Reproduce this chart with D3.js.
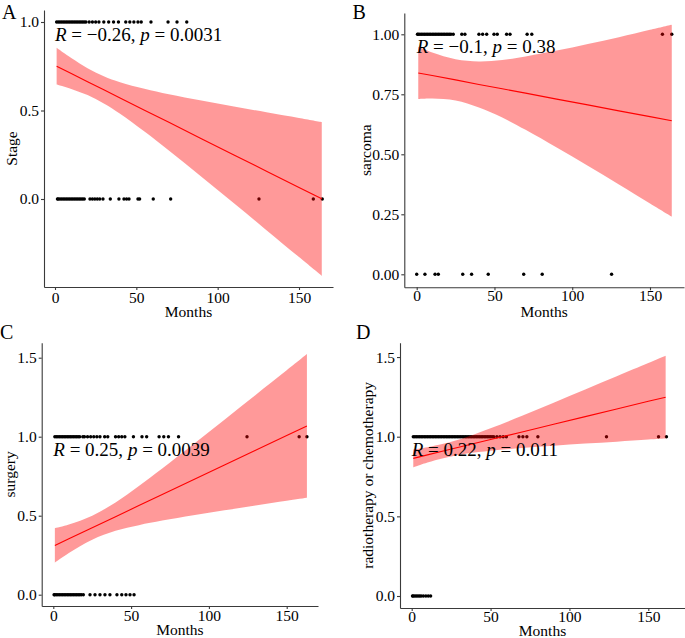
<!DOCTYPE html>
<html>
<head>
<meta charset="utf-8">
<script src="https://cdn.jsdelivr.net/npm/d3@7"></script>
<style>
  html, body { margin: 0; padding: 0; background: #fff; }
  svg { display: block; }
  text { font-family: "Liberation Serif", "Times New Roman", serif; fill: #000; }
</style>
</head>
<body>
<svg id="chart" width="685" height="638"></svg>
<script>
// ---------------- DATA ----------------
const xTicks = [0, 50, 100, 150];
const panelLetters = ["A", "B", "C", "D"];
const yTitles = ["Stage", "sarcoma", "surgery", "radiotherapy or chemotherapy"];
const yTicksA = [0, 0.5, 1];
const yTicksB = [0, 0.25, 0.5, 0.75, 1];
const yTicksC = [0, 0.5, 1, 1.5];
const yTicksD = [0, 0.5, 1, 1.5];
const corR = ["\u22120.26", "\u22120.1", "0.25", "0.22"];
const corP = ["0.0031", "0.38", "0.0039", "0.011"];

// Panel A: Stage
const stageMonths1 = [1,2,3,4,5,6,7,8,9,10,11,12,13,14,15,16,17,18,19,21,23,25,27,30,33,36,39,43.5,46,48.5,51,53,59,69.5,75,81];
const stageMonths0 = [1.5,2,3,4,5,6,7,8,9,10,11,12,13,14,15,16,17,18,21.5,23,24.5,26,27.5,29.5,34,39.3,42.4,44,45.5,51,52,60.4,71.1,125.4,158.8,164.3];
const stageFitMonths = [1,10,20,30,40,55,70,90,110,130,150,164];
const stageFitLine   = [0.750,0.709,0.663,0.617,0.571,0.502,0.433,0.341,0.249,0.157,0.065,0.001];
const stageFitUpper  = [0.854,0.796,0.739,0.694,0.660,0.623,0.592,0.556,0.522,0.490,0.458,0.435];
const stageFitLower  = [0.647,0.622,0.587,0.540,0.482,0.381,0.274,0.126,-0.024,-0.176,-0.328,-0.434];

// Panel B: sarcoma
const sarcomaMonths1 = [0.5,1,2,3,4,5,6,7,8,9,10,11,12,13,14,15,16,17,18,19,20,21,22,23.5,29,31,40,42.4,45,49.7,51.8,57.8,60,71,74,158,164];
const sarcomaMonths0 = [0,5.3,11.8,13.9,29.6,35.3,46,68.8,80.7,125.3];
const sarcomaFitMonths = [1,10,25,40,55,70,90,110,130,150,164];
const sarcomaFitLine   = [0.839,0.828,0.810,0.791,0.773,0.755,0.730,0.706,0.681,0.657,0.640];
const sarcomaFitUpper  = [0.948,0.924,0.896,0.887,0.893,0.908,0.932,0.960,0.988,1.019,1.040];
const sarcomaFitLower  = [0.730,0.732,0.724,0.695,0.653,0.602,0.528,0.452,0.374,0.295,0.240];

// Panel C: surgery
const surgeryMonths1 = [1,2,3,4,5,6,7,8,9,10,11,12,13,14,15,16,17,19,20,22,24,26,28,30,33,35,40,42,44,46,51.5,57,60,68,71,74,80.5,124.5,158,163];
const surgeryMonths0 = [0.5,1,2,3,4,5,6,7,8,9,10,11,12,13,14,15,16,17,18,19.3,23.6,26.8,30,33.2,36.4,40.9,44,46.7,49.3,51.9];
const surgeryFitMonths = [1,10,25,40,55,70,90,110,130,150,163];
const surgeryFitLine   = [0.312,0.354,0.424,0.494,0.564,0.634,0.727,0.821,0.914,1.007,1.068];
const surgeryFitUpper  = [0.421,0.444,0.500,0.584,0.688,0.799,0.952,1.108,1.264,1.420,1.523];
const surgeryFitLower  = [0.203,0.264,0.348,0.404,0.440,0.469,0.503,0.534,0.564,0.594,0.613];

// Panel D: radiotherapy or chemotherapy
const rtctMonths1 = [1,2,3,4,5,6,7,8,9,10,11,12,13,14,15,16,17,18,19,20,21,22,23,24,25,26,27,28,29,30,31,32,33,34,35,36,37,38,39,40,41,42,43,44,45,46,47,48,49,50,51,52,54,56,58,60,68,70.5,73,80,123.5,156.5,161.5];
const rtctMonths0 = [0.5,1,2,3,4,5,6,7.4,9,10.5,12];
const rtctFitMonths = [1,10,20,35,50,70,90,110,130,150,161];
const rtctFitLine   = [0.864,0.886,0.910,0.946,0.982,1.030,1.078,1.126,1.174,1.222,1.248];
const rtctFitUpper  = [0.920,0.934,0.955,0.998,1.053,1.131,1.213,1.296,1.379,1.462,1.508];
const rtctFitLower  = [0.808,0.838,0.865,0.894,0.912,0.929,0.943,0.957,0.969,0.982,0.988];

// ---------------- LAYOUT ----------------
const serif = '"Liberation Serif", "Times New Roman", serif';
const panels = [
  { letter: panelLetters[0], title: yTitles[0], yTicks: yTicksA, yFmt: d3.format(".1f"),
    m1: stageMonths1, m0: stageMonths0,
    fm: stageFitMonths, fl: stageFitLine, fu: stageFitUpper, flo: stageFitLower,
    r: corR[0], p: corP[0],
    xPix: [55, 299], yPix: [199, 22], box: [44, 333, 287, 10],
    letterPos: [2, 18.5], titleX: 16.5, xTickBase: 302.5, xTitleBase: 317 },
  { letter: panelLetters[1], title: yTitles[1], yTicks: yTicksB, yFmt: d3.format(".2f"),
    m1: sarcomaMonths1, m0: sarcomaMonths0,
    fm: sarcomaFitMonths, fl: sarcomaFitLine, fu: sarcomaFitUpper, flo: sarcomaFitLower,
    r: corR[1], p: corP[1],
    xPix: [416.7, 650], yPix: [274.3, 34.3], box: [404.3, 684, 287.3, 13],
    letterPos: [352.5, 18.5], titleX: 371, xTickBase: 301.5, xTitleBase: 317 },
  { letter: panelLetters[2], title: yTitles[2], yTicks: yTicksC, yFmt: d3.format(".1f"),
    m1: surgeryMonths1, m0: surgeryMonths0,
    fm: surgeryFitMonths, fl: surgeryFitLine, fu: surgeryFitUpper, flo: surgeryFitLower,
    r: corR[2], p: corP[2],
    xPix: [53.3, 286.7], yPix: [594.7, 436.7], box: [41.7, 318, 606, 342.7],
    letterPos: [0, 338.5], titleX: 15, xTickBase: 621, xTitleBase: 634.5 },
  { letter: panelLetters[3], title: yTitles[3], yTicks: yTicksD, yFmt: d3.format(".1f"),
    m1: rtctMonths1, m0: rtctMonths0,
    fm: rtctFitMonths, fl: rtctFitLine, fu: rtctFitUpper, flo: rtctFitLower,
    r: corR[3], p: corP[3],
    xPix: [411.7, 648.3], yPix: [596, 436.7], box: [400, 685, 608, 342.7],
    letterPos: [356, 338.5], titleX: 373, xTickBase: 621.5, xTitleBase: 635.5 }
];

const svg = d3.select("#chart");
const axisColor = "#3a3a3a";

panels.forEach(P => {
  const [bx0, bx1, by0, by1] = P.box;
  const xs = d3.scaleLinear().domain([0, 150]).range(P.xPix);
  const ys = d3.scaleLinear().domain([0, 1]).range(P.yPix);
  const x = d3.scaleLinear().domain([xs.invert(bx0), xs.invert(bx1)]).range([bx0, bx1]);
  const y = d3.scaleLinear().domain([ys.invert(by0), ys.invert(by1)]).range([by0, by1]);

  const g = svg.append("g");

  // points
  const pts = P.m1.map(m => ({ m, v: 1 })).concat(P.m0.map(m => ({ m, v: 0 })));
  g.append("g").selectAll("circle").data(pts).join("circle")
    .attr("cx", d => x(d.m)).attr("cy", d => y(d.v)).attr("r", 1.7)
    .attr("fill", "#000");

  // ribbon + fitted line
  const fit = P.fm.map((m, i) => ({ m, l: P.fl[i], u: P.fu[i], lo: P.flo[i] }));
  g.append("path").datum(fit)
    .attr("d", d3.area().x(d => x(d.m)).y0(d => y(d.lo)).y1(d => y(d.u)).curve(d3.curveCatmullRom.alpha(0.5)))
    .attr("fill", "red").attr("fill-opacity", 0.4);
  g.append("path").datum(fit)
    .attr("d", d3.line().x(d => x(d.m)).y(d => y(d.l)))
    .attr("fill", "none").attr("stroke", "red").attr("stroke-width", 1.1);

  // axes
  const xAxis = g.append("g").attr("transform", `translate(0,${by0})`)
    .call(d3.axisBottom(x).tickValues(xTicks).tickSize(3).tickSizeOuter(0).tickPadding(2));
  const yAxis = g.append("g").attr("transform", `translate(${bx0},0)`)
    .call(d3.axisLeft(y).tickValues(P.yTicks).tickFormat(P.yFmt).tickSize(3).tickSizeOuter(0).tickPadding(2));
  [xAxis, yAxis].forEach(a => {
    a.attr("font-family", serif);
    a.select(".domain").attr("stroke", axisColor).attr("stroke-width", 1.1);
    a.selectAll(".tick line").attr("stroke", axisColor).attr("stroke-width", 1.1);
    a.selectAll(".tick text").style("font-family", serif).style("font-size", "15.5px").attr("fill", "#111");
  });
  xAxis.selectAll(".tick text").attr("dy", null).attr("y", P.xTickBase - by0);
  yAxis.selectAll(".tick text").attr("dy", "0.32em");

  // axis titles
  g.append("text").attr("x", (bx0 + bx1) / 2).attr("y", P.xTitleBase)
    .attr("text-anchor", "middle").style("font-family", serif).style("font-size", "15.5px").text("Months");
  g.append("text")
    .attr("transform", `translate(${P.titleX},${(by0 + by1) / 2}) rotate(-90)`)
    .attr("text-anchor", "middle").style("font-family", serif).style("font-size", "15.5px").text(P.title);

  // correlation label
  const t = g.append("text").attr("x", x(0)).attr("y", y(1) + 19)
    .style("font-family", serif).style("font-size", "19px");
  t.append("tspan").attr("font-style", "italic").text("R");
  t.append("tspan").text(" = " + P.r + ", ");
  t.append("tspan").attr("font-style", "italic").text("p");
  t.append("tspan").text(" = " + P.p);

  // panel letter
  svg.append("text").attr("x", P.letterPos[0]).attr("y", P.letterPos[1])
    .style("font-family", serif).style("font-size", "20px").text(P.letter);
});
</script>
</body>
</html>
